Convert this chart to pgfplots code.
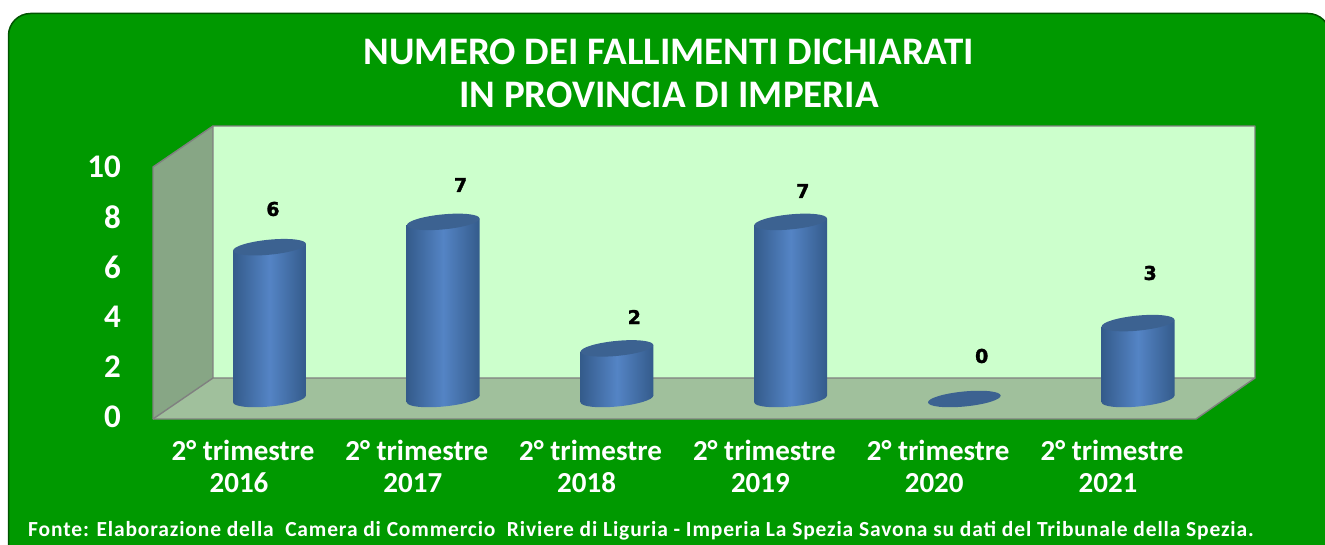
\documentclass[border=0pt]{standalone}
\usepackage{fontspec}
\setmainfont{Carlito}
\newfontfamily\lab[FakeBold=1.6]{DejaVu Sans Bold}
\usepackage{pgfplots}
\pgfplotsset{compat=1.18}
\usetikzlibrary{shapes.geometric}
\definecolor{panel}{HTML}{009900}
\definecolor{wall}{HTML}{CCFFCC}
\definecolor{side}{HTML}{87A685}
\definecolor{floorc}{HTML}{A0C09C}
\definecolor{edgec}{HTML}{808080}
\definecolor{bardk}{HTML}{345B8B}
\definecolor{barmd}{HTML}{5484C5}
\definecolor{bartop}{HTML}{3C6291}
\pgfplotsset{frame/.style={width=1325pt,height=545pt,scale only axis,at={(0,0)},anchor=south west}}
\newcommand{\yr}[1]{#1\hspace*{8pt}}
\begin{document}
\begin{tikzpicture}
\path[use as bounding box,clip] (0,0) rectangle (1325pt,545pt);
% pixel frame: panel, walls, texts
\begin{axis}[frame,hide axis,xmin=0,xmax=1325,ymin=0,ymax=545,y dir=reverse,clip=false]
\draw[draw=black!45!panel,line width=1.5pt,fill=panel,rounded corners=22pt] (axis cs:8.5,13.5) rectangle (axis cs:1330,600);
\fill[side] (axis cs:153,167)--(axis cs:213,126)--(axis cs:213,378)--(axis cs:153,419)--cycle;
\fill[floorc] (axis cs:153,419)--(axis cs:213,378)--(axis cs:1255,378)--(axis cs:1196,419)--cycle;
\fill[wall] (axis cs:213,126) rectangle (axis cs:1255,378);
\draw[edgec,line width=1.4pt,line join=round] (axis cs:153,419)--(axis cs:153,167)--(axis cs:213,126)--(axis cs:1255,126)--(axis cs:1255,378)--(axis cs:1196,419)--cycle;
\draw[edgec,line width=1.4pt] (axis cs:213,126)--(axis cs:213,378)--(axis cs:1255,378) (axis cs:213,378)--(axis cs:153,419);
\node[text=white,font=\fontsize{39}{43}\selectfont\bfseries,align=center,inner sep=0] at (axis cs:669,73.5) {NUMERO DEI FALLIMENTI DICHIARATI\\IN PROVINCIA DI IMPERIA};
\node[text=white,font=\fontsize{21.5}{24}\selectfont\bfseries\addfontfeature{LetterSpace=4},anchor=west,inner sep=0] at (axis cs:28,531) {Fonte: Elaborazione della\ \ Camera di Commercio\ \ Riviere di Liguria - Imperia La Spezia Savona su dati del Tribunale della Spezia.};
\end{axis}
% front plane: value scale and category labels
\begin{axis}[frame,xmin=-1.3982,xmax=6.2255,ymin=-5.12,ymax=16.68,
  axis line style={draw=none},tick style={draw=none},major tick length=0pt,
  axis x line*=bottom,axis y line*=left,
  xtick={0,1,2,3,4,5},
  xticklabels={2° trimestre\\\yr{2016},2° trimestre\\\yr{2017},2° trimestre\\\yr{2018},2° trimestre\\\yr{2019},2° trimestre\\\yr{2020},2° trimestre\\\yr{2021}},
  xticklabel style={align=center,text=white,font=\fontsize{29}{31.5}\selectfont\bfseries,inner sep=0pt,yshift=105pt},
  ytick={0,2,4,6,8,10},
  yticklabel style={text=white,font=\fontsize{33}{34}\selectfont\bfseries,inner sep=0pt,xshift=121pt,/pgf/number format/assume math mode=true},
]
\addplot[draw=none,forget plot] coordinates {(0,0)(5,10)};
\end{axis}
% bars, on the mid-depth plane
\begin{axis}[frame,hide axis,xmin=-1.5515,xmax=6.0765,ymin=-5.771,ymax=15.771,clip=false]
\pgfplotsset{cap/.style={only marks,mark=none,nodes near coords={},
   every node near coord/.append style={ellipse,anchor=center,inner sep=0pt,minimum width=73pt,minimum height=15pt,rotate=5.5,#1}}}
% lower ends
\addplot[cap={left color=bardk,right color=bardk,middle color=barmd}] coordinates {(0,0)(1,0)(2,0)(3,0)(5,0)};
% bodies
\addplot[draw=none,left color=bardk,right color=bardk,middle color=barmd] coordinates {(-0.21,-0.13)(-0.21,5.87)(0.21,6.13)(0.21,0.13)} --cycle;
\addplot[draw=none,left color=bardk,right color=bardk,middle color=barmd] coordinates {(0.79,-0.13)(0.79,6.87)(1.21,7.13)(1.21,0.13)} --cycle;
\addplot[draw=none,left color=bardk,right color=bardk,middle color=barmd] coordinates {(1.79,-0.13)(1.79,1.87)(2.21,2.13)(2.21,0.13)} --cycle;
\addplot[draw=none,left color=bardk,right color=bardk,middle color=barmd] coordinates {(2.79,-0.13)(2.79,6.87)(3.21,7.13)(3.21,0.13)} --cycle;
\addplot[draw=none,left color=bardk,right color=bardk,middle color=barmd] coordinates {(4.79,-0.13)(4.79,2.87)(5.21,3.13)(5.21,0.13)} --cycle;
% upper ends
\addplot[cap={fill=bartop}] coordinates {(0,6)(1,7)(2,2)(3,7)(4,0)(5,3)};
% value labels
\addplot[only marks,mark=none,point meta=explicit symbolic,nodes near coords,
  every node near coord/.append style={anchor=center,inner sep=0pt,text=black,font=\lab\fontsize{19}{20}\selectfont}]
  table[meta=l]{
x y l
0.02 7.51 6
1.10 8.46 7
2.10 3.24 2
3.07 8.22 7
4.10 1.70 0
5.07 4.98 3
};
\end{axis}
\end{tikzpicture}
\end{document}
